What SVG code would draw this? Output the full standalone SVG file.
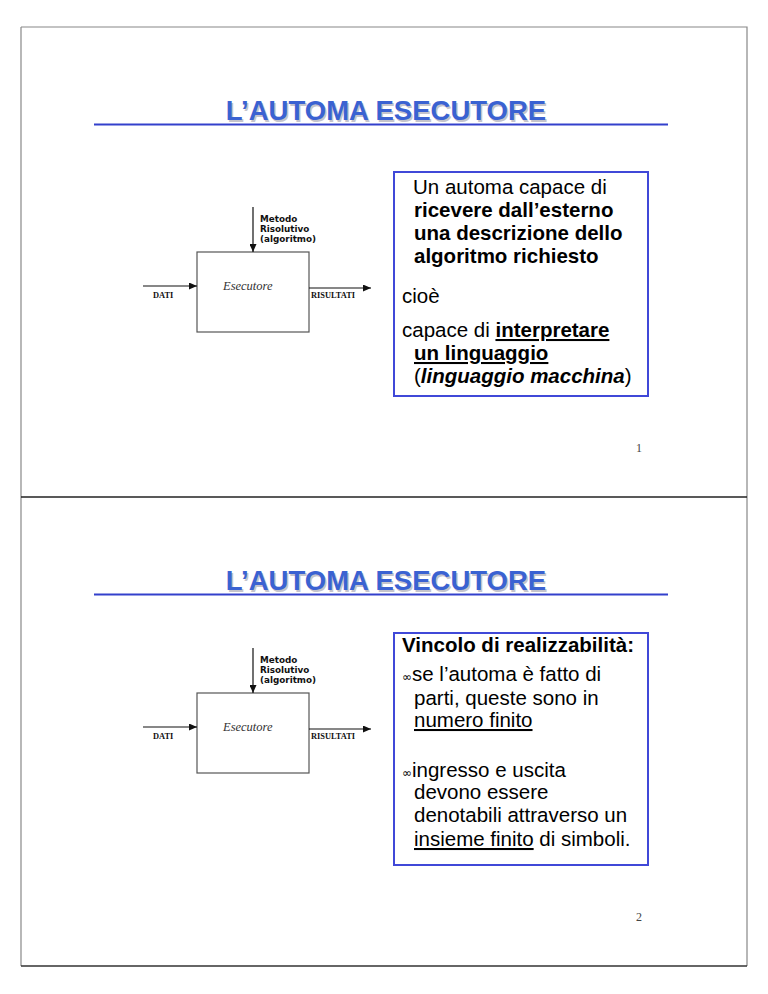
<svg xmlns="http://www.w3.org/2000/svg" width="768" height="994" viewBox="0 0 768 994">
<style>
.title{font-family:"Liberation Sans",Arial,sans-serif;font-weight:bold;font-size:27.5px;fill:#3a62d2;text-anchor:middle}
.shadow{font-family:"Liberation Sans",Arial,sans-serif;font-weight:bold;font-size:27.5px;fill:#c4c4cc;text-anchor:middle}
.uline{stroke:#3340cc;stroke-width:2.2}
.tbox{fill:none;stroke:#4048d8;stroke-width:2}
.body{font-family:"Liberation Sans",Arial,sans-serif;font-size:20.5px;fill:#000}
.b{font-weight:bold}
.i{font-style:italic}
.u{text-decoration:underline}
.blk{fill:#fff;stroke:#555;stroke-width:1.2}
.lbl{font-family:"DejaVu Sans",Verdana,sans-serif;font-weight:bold;font-size:8.8px;fill:#111}
.ser{font-family:"Liberation Serif","Times New Roman",serif;font-weight:bold;font-size:8.4px;fill:#111}
.esec{font-family:"Liberation Serif","Times New Roman",serif;font-style:italic;font-size:12.5px;fill:#333}
.arr{stroke:#111;stroke-width:1.2;fill:none;marker-end:url(#ah)}
.pg{font-family:"Liberation Serif","Times New Roman",serif;font-size:12px;fill:#444;text-anchor:middle}
.bul{font-family:"DejaVu Sans",sans-serif;font-size:12px}
</style>
<defs>
<marker id="ah" viewBox="0 0 10 10" refX="10" refY="5" markerWidth="8" markerHeight="7" markerUnits="userSpaceOnUse" orient="auto" preserveAspectRatio="none">
<path d="M0,0 L10,5 L0,10 z" fill="#111"/>
</marker>
</defs>
<rect width="768" height="994" fill="#fff"/>

<g id="frame">
<path d="M21,27 H747 V966" fill="none" stroke="#888" stroke-width="1.2"/>
<path d="M21,27 V966" fill="none" stroke="#888" stroke-width="1.2"/>
<line x1="21" y1="497" x2="747" y2="497" stroke="#222" stroke-width="1.6"/>
<line x1="21" y1="966" x2="747" y2="966" stroke="#333" stroke-width="1.6"/>
</g>

<!-- Slide 1 -->
<g id="title1">
<text class="shadow" x="387.5" y="121.5">L’AUTOMA ESECUTORE</text>
<text class="title" x="386" y="120">L’AUTOMA ESECUTORE</text>
<line class="uline" x1="94" y1="124.5" x2="668" y2="124.5"/>
</g>

<g id="esecutore1">
<rect class="blk" x="197" y="252" width="112" height="80"/>
<text class="esec" x="223" y="290">Esecutore</text>
</g>
<g id="metodo1">
<text class="lbl" x="260" y="222">Metodo</text>
<text class="lbl" x="260" y="232">Risolutivo</text>
<text class="lbl" x="260" y="242">(algoritmo)</text>
</g>
<g id="dati1"><text class="ser" x="153" y="298">DATI</text></g>
<g id="risultati1"><text class="ser" x="311" y="298">RISULTATI</text></g>

<g id="desc1">
<rect class="tbox" x="394" y="172" width="254" height="224"/>
<text class="body" x="413" y="194">Un automa capace di</text>
<text class="body b" x="414" y="217">ricevere dall’esterno</text>
<text class="body b" x="414" y="240">una descrizione dello</text>
<text class="body b" x="414" y="263">algoritmo richiesto</text>
<text class="body" x="402" y="303">cioè</text>
<text class="body" x="402" y="337">capace di <tspan class="b u">interpretare</tspan></text>
<text class="body b u" x="414" y="360">un linguaggio</text>
<text class="body" x="414" y="383">(<tspan class="b i">linguaggio macchina</tspan>)</text>
</g>
<g id="page1"><text class="pg" x="639" y="452">1</text></g>

<!-- Slide 2 -->
<g id="title2">
<text class="shadow" x="387.5" y="591.5">L’AUTOMA ESECUTORE</text>
<text class="title" x="386" y="590">L’AUTOMA ESECUTORE</text>
<line class="uline" x1="94" y1="594.5" x2="668" y2="594.5"/>
</g>

<g id="esecutore2">
<rect class="blk" x="197" y="693" width="112" height="80"/>
<text class="esec" x="223" y="731">Esecutore</text>
</g>
<g id="metodo2">
<text class="lbl" x="260" y="663">Metodo</text>
<text class="lbl" x="260" y="673">Risolutivo</text>
<text class="lbl" x="260" y="683">(algoritmo)</text>
</g>
<g id="dati2"><text class="ser" x="153" y="739">DATI</text></g>
<g id="risultati2"><text class="ser" x="311" y="739">RISULTATI</text></g>

<g id="vincolo2">
<rect class="tbox" x="394" y="633" width="254" height="232"/>
<text class="body b" x="402" y="652">Vincolo di realizzabilità:</text>
<text class="body" x="402" y="681"><tspan class="bul">∞</tspan>se l’automa è fatto di</text>
<text class="body" x="414" y="705">parti, queste sono in</text>
<text class="body u" x="414" y="727">numero finito</text>
<text class="body" x="402" y="777"><tspan class="bul">∞</tspan>ingresso e uscita</text>
<text class="body" x="414" y="799">devono essere</text>
<text class="body" x="414" y="822">denotabili attraverso un</text>
<text class="body" x="414" y="846"><tspan class="u">insieme finito</tspan> di simboli.</text>
</g>
<g id="page2"><text class="pg" x="639" y="921">2</text></g>

<g id="connectors">
<line class="arr" x1="253" y1="207" x2="253" y2="252"/>
<line class="arr" x1="143" y1="286" x2="197" y2="286"/>
<line class="arr" x1="309" y1="288" x2="371" y2="288"/>
<line class="arr" x1="253" y1="648" x2="253" y2="693"/>
<line class="arr" x1="143" y1="727" x2="197" y2="727"/>
<line class="arr" x1="309" y1="729" x2="371" y2="729"/>
</g>
</svg>
